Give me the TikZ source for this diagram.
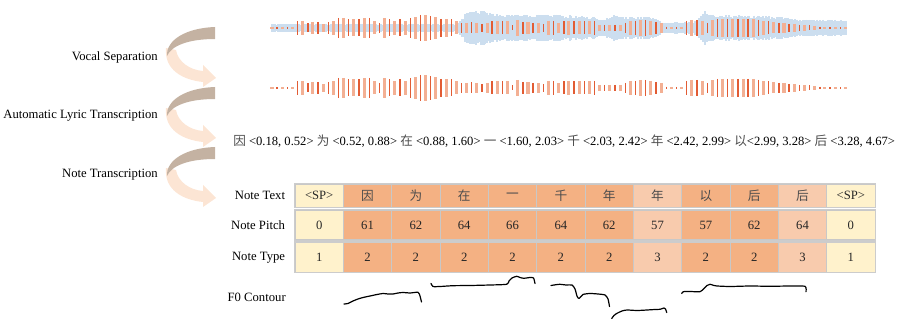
\documentclass[tikz,border=0pt]{standalone}
\usepackage{fontspec}
\setmainfont{Liberation Serif}
\newfontfamily\cjk{Noto Sans CJK SC}
\usepackage{tikz}
\usetikzlibrary{positioning}

\definecolor{stagebrown}{RGB}{196,178,162}
\definecolor{stagepeach}{RGB}{252,229,212}
\definecolor{wavebgc}{RGB}{204,222,239}
\definecolor{wavedark}{RGB}{226,92,52}
\definecolor{wavelight}{RGB}{243,176,148}
\definecolor{spfill}{RGB}{255,242,204}
\definecolor{notefill}{RGB}{244,177,131}
\definecolor{slurfill}{RGB}{248,203,173}
\definecolor{gridgray}{RGB}{200,200,200}

\newcommand\hanzi[1]{{\cjk\color{black!70}#1}}

\begin{document}
\begin{tikzpicture}[
  x=0.75pt, y=-0.75pt,
  every node/.style={font=\fontsize{9.5}{11}\selectfont, inner sep=0pt},
  stagelabel/.style={anchor=east},
  rowlabel/.style={anchor=east},
  cell/.style={draw=gridgray, line width=0.6pt, minimum width=36.25pt, text=black!85},
  textcell/.style={cell, minimum height=17.5pt},
  numcell/.style={cell, minimum height=22.3pt},
  rowframe/.style={draw=black!20, line width=1.1pt},
  wavebg/.style={draw=wavebgc, line width=1.6pt},
  barthin/.style={draw=wavedark, line width=1pt},
  barwide/.style={draw=wavelight, line width=2.3pt},
  contour/.style={draw=black, line width=0.9pt, line cap=round, line join=round}
]
\useasboundingbox (0,0) rectangle (897,324);

% stage arrows
\foreach \dy in {0,60,120} {
  \begin{scope}[shift={(0,\dy)}]
    \fill[stagepeach] (166,48) .. controls (164,70) and (183,80) .. (203,82)
      -- (203,87) -- (216,78) -- (203,65) -- (203,71)
      .. controls (190,70) and (178,62) .. (176,50) -- cycle;
    \fill[stagebrown] (215,27) .. controls (186,28) and (166,40) .. (167,56)
      .. controls (171,46) and (188,39) .. (215,39) -- cycle;
  \end{scope}
}
\node[stagelabel] (sep) at (158,57) {Vocal Separation};
\node[stagelabel] (alt) at (158,116) {Automatic Lyric Transcription};
\node[stagelabel] (nt) at (158,175) {Note Transcription};

% mixture background
\pgfmathsetseed{7}
\foreach \xa/\ha/\xb/\hb in {272/3.7/456/3.7, 456/3.7/462/8, 462/8/467/16, 467/16/476/16,
    476/16/490/14, 490/14/500/12, 500/12/560/12, 560/12/576/11, 576/11/592/10, 592/10/598/8,
    598/8/610/9, 610/9/614/12, 614/12/620/10, 620/10/650/10, 650/10/658/8, 658/8/662/5,
    662/5/680/5, 680/5/697/6, 697/6/701/12, 701/12/705/15, 705/15/711/12, 711/12/760/11,
    760/11/780/10, 780/10/800/8, 800/8/846/7} {
  \pgfmathtruncatemacro\nn{(\xb-\xa)/1.5}
  \foreach \k in {0,...,\nn} {
    \pgfmathsetmacro\ff{\k/\nn}
    \pgfmathsetmacro\xx{\xa+(\xb-\xa)*\ff}
    \pgfmathsetmacro\hh{(\ha+(\hb-\ha)*\ff)*(1+0.12*rand)}
    \draw[wavebg] (\xx,28-\hh) -- (\xx,28+\hh);
  }
}

% vocal bars (mixture and separated vocal)
\foreach \h [count=\i from 0] in {0.7,0.7,0.7,0.7,0.7,
    7,7,4.5,6,6,4,6,7, 10,10,8.5,8.5,8.5,10,10, 6.5,5,10,8.5,7,8.5,7,10,
    11,13,13,12,11,9,9,8.5, 6.5,5,5,5.5,5,4,5,6.5,6.5,6.5,6.5, 2.5,8,6,6,5,5,4,
    7,7,5,6.5,7,6.5,6.5,6.5,6.5,7, 3,3,3,3,3, 5,7,7,8,8,7,6,5, 1.3,1,1,1,
    7,8,8,7,5, 8,9,9,9,9,9,9,9,9, 8,7,6.5,5.5,5,5,4,4,3,3,2.5,2,1.3,
    0.7,0.7,0.7,0.7,0.7} {
  \pgfmathsetmacro\xx{272+5.12*\i}
  \ifodd\i
    \draw[barthin] (\xx,28-\h) -- (\xx,28+\h);
    \draw[barthin] (\xx,88-\h) -- (\xx,88+\h);
  \else
    \draw[barwide] (\xx,28-\h) -- (\xx,28+\h);
    \draw[barwide] (\xx,88-\h) -- (\xx,88+\h);
  \fi
}

% lyric transcription
\node[anchor=west, font=\fontsize{9.45}{11}\selectfont] (lyrics) at (233,141) {\hanzi{因} <0.18, 0.52> \hanzi{为} <0.52, 0.88> \hanzi{在} <0.88, 1.60> \hanzi{一} <1.60, 2.03> \hanzi{千} <2.03, 2.42> \hanzi{年} <2.42, 2.99> \hanzi{以}<2.99, 3.28> \hanzi{后} <3.28, 4.67>};

% note table
\foreach \t/\p/\y/\c [count=\i from 0] in {<SP>/0/1/spfill, \hanzi{因}/61/2/notefill,
    \hanzi{为}/62/2/notefill, \hanzi{在}/64/2/notefill, \hanzi{一}/66/2/notefill,
    \hanzi{千}/64/2/notefill, \hanzi{年}/62/2/notefill, \hanzi{年}/57/3/slurfill,
    \hanzi{以}/57/2/notefill, \hanzi{后}/62/2/notefill, \hanzi{后}/64/3/slurfill,
    <SP>/0/1/spfill} {
  \node[textcell, fill=\c] (txt\i) at (319.2+48.33*\i,195.7) {\t};
  \node[numcell, fill=\c] (pit\i) at (319.2+48.33*\i,225) {\p};
  \node[numcell, fill=\c] (typ\i) at (319.2+48.33*\i,257.5) {\y};
}
\draw[rowframe] (txt0.north west) rectangle (txt11.south east);
\draw[rowframe] (pit0.north west) rectangle (pit11.south east);
\draw[rowframe] (typ0.north west) rectangle (typ11.south east);

\node[rowlabel, left=7pt of txt0] (lbltxt) {Note Text};
\node[rowlabel, left=7pt of pit0] (lblpit) {Note Pitch};
\node[rowlabel, left=7pt of typ0] (lbltyp) {Note Type};
\node[rowlabel] (lblf0) at (286,297) {F0 Contour};

% f0 contour
\draw[contour] plot[smooth, tension=0.4] coordinates {(344,304) (348,303.5) (353,301)
  (358,299) (363,297.5) (370,296) (377,294.5) (383,293.5) (388,294) (393,294) (398,293)
  (403,292.5) (410,293) (418,292.3) (420,296) (421.5,302)};
\draw[contour] plot[smooth, tension=0.4] coordinates {(431,283.5) (433,286.5) (440,286.5)
  (453,285.7) (470,285.5) (490,285) (506.7,284.3) (509,281) (512,278) (516.7,276.3)
  (520,277.5) (524,278.3) (530,277.5) (533.5,278) (535,283.5)};
\draw[contour] plot[smooth, tension=0.4] coordinates {(551,285.5) (556,284.7) (560,284.3)
  (566,285) (572,285) (575,289) (577,296) (579,298.5) (583,294.5) (590,293.5) (598,294)
  (605,295) (608,299) (609.5,306.5)};
\draw[contour] plot[smooth, tension=0.4] coordinates {(611.7,318.5) (614,315.5) (617,313.3)
  (622,311) (627,310) (637,310.5) (647,310) (655,309.5) (660,309.3) (664,308) (665.5,309)
  (666.7,312.5)};
\draw[contour] plot[smooth, tension=0.4] coordinates {(681.7,293.5) (683.3,291.7) (690,291.5)
  (700,291.7) (704,288.5) (707,285.5) (710,284.3) (714,285.5) (717,286) (730,286.5)
  (750,286) (770,286.3) (790,286) (805,286.3) (806,291.7)};
\end{tikzpicture}
\end{document}
